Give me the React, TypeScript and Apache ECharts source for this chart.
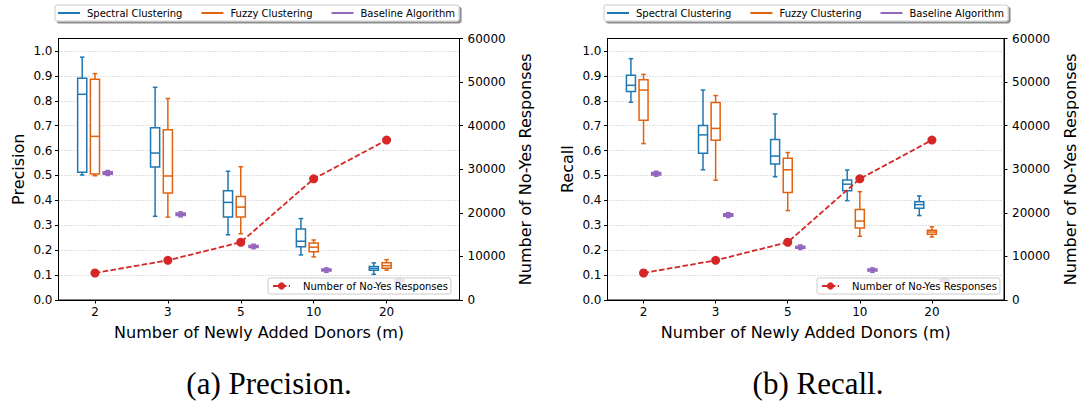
import React, { useEffect, useRef } from "react";
import * as echarts from "echarts";

// ---------- data ----------
const groupLabels = ["2", "3", "5", "10", "20"];
const seriesNames = ["Spectral Clustering", "Fuzzy Clustering", "Baseline Algorithm"];
const lineName = "Number of No-Yes Responses";

// each box: [min, Q1, median, Q3, max]
const precisionSpectral = [
  [0.502, 0.513, 0.826, 0.89, 0.975],
  [0.336, 0.534, 0.59, 0.692, 0.854],
  [0.262, 0.333, 0.392, 0.439, 0.517],
  [0.181, 0.214, 0.236, 0.285, 0.327],
  [0.103, 0.119, 0.127, 0.135, 0.149],
];
const precisionFuzzy = [
  [0.499, 0.506, 0.657, 0.886, 0.909],
  [0.333, 0.43, 0.498, 0.684, 0.809],
  [0.266, 0.333, 0.373, 0.416, 0.535],
  [0.173, 0.194, 0.212, 0.229, 0.241],
  [0.12, 0.127, 0.138, 0.15, 0.162],
];
const precisionBaseline = [
  [0.5, 0.505, 0.51, 0.515, 0.52],
  [0.334, 0.339, 0.344, 0.349, 0.354],
  [0.206, 0.211, 0.215, 0.219, 0.224],
  [0.111, 0.116, 0.12, 0.124, 0.129],
  [0.07, 0.074, 0.078, 0.082, 0.086],
];

const recallSpectral = [
  [0.794, 0.837, 0.862, 0.902, 0.969],
  [0.523, 0.589, 0.663, 0.701, 0.843],
  [0.495, 0.546, 0.578, 0.644, 0.747],
  [0.399, 0.439, 0.465, 0.482, 0.522],
  [0.339, 0.368, 0.383, 0.395, 0.418],
];
const recallFuzzy = [
  [0.628, 0.722, 0.843, 0.884, 0.906],
  [0.481, 0.641, 0.689, 0.793, 0.821],
  [0.359, 0.432, 0.523, 0.569, 0.592],
  [0.256, 0.289, 0.317, 0.363, 0.435],
  [0.253, 0.264, 0.273, 0.28, 0.294],
];
const recallBaseline = [
  [0.497, 0.502, 0.507, 0.512, 0.517],
  [0.331, 0.336, 0.341, 0.346, 0.351],
  [0.203, 0.208, 0.212, 0.216, 0.221],
  [0.111, 0.116, 0.12, 0.124, 0.129],
  [0.07, 0.074, 0.078, 0.082, 0.086],
];

const noYesResponses = [6200, 9100, 13250, 27800, 36700];

const leftTicks = [0, 0.1, 0.2, 0.3, 0.4, 0.5, 0.6, 0.7, 0.8, 0.9, 1.0];
const groupTickValues = [1, 2, 3, 4, 5];

// ---------- style ----------
const FONT = "DejaVu Sans";
const BLUE = "#1f77b4";
const ORANGE = "#e1620f";
const PURPLE = "#9467bd";
const RED = "#d62728";
const BOX_W = 0.125;
const OFFSETS = [-0.175, 0, 0.175];
const COLORS = [BLUE, ORANGE, PURPLE];
const FILLS = ["#ffffff", "#ffffff", PURPLE];

function boxRenderer(color: string, fill: string, offset: number) {
  return (_params: any, api: any) => {
    const x = api.value(0) + offset;
    const pts = [1, 2, 3, 4, 5].map((k) => api.coord([x, api.value(k)]));
    const [pLo, pQ1, pMed, pQ3, pHi] = pts;
    const cx = pLo[0];
    const w = api.size([BOX_W, 0])[0];
    const half = w / 2;
    const capHalf = w / 4;
    const st = { stroke: color, lineWidth: 1.5, fill: "none" };
    return {
      type: "group",
      children: [
        { type: "line", shape: { x1: cx, y1: pLo[1], x2: cx, y2: pQ1[1] }, style: st },
        { type: "line", shape: { x1: cx, y1: pQ3[1], x2: cx, y2: pHi[1] }, style: st },
        { type: "line", shape: { x1: cx - capHalf, y1: pLo[1], x2: cx + capHalf, y2: pLo[1] }, style: st },
        { type: "line", shape: { x1: cx - capHalf, y1: pHi[1], x2: cx + capHalf, y2: pHi[1] }, style: st },
        {
          type: "rect",
          shape: { x: cx - half, y: pQ3[1], width: w, height: pQ1[1] - pQ3[1] },
          style: { stroke: color, lineWidth: 1.5, fill },
        },
        { type: "line", shape: { x1: cx - half, y1: pMed[1], x2: cx + half, y2: pMed[1] }, style: st },
      ],
    };
  };
}

function makePanel(
  idx: number,
  gridLeft: number,
  yName: string,
  boxes: number[][][],
) {
  const grid = {
    left: gridLeft,
    top: 38.5,
    width: 401,
    height: 261.5,
    show: true,
    borderColor: "#000",
    borderWidth: 1,
    backgroundColor: "transparent",
  };
  const xAxis = {
    gridIndex: idx,
    type: "value",
    min: 0.5,
    max: 6,
    name: "Number of Newly Added Donors (m)",
    nameLocation: "middle",
    nameGap: 24,
    nameTextStyle: { fontFamily: FONT, fontSize: 16, color: "#000" },
    axisLine: { show: true, lineStyle: { color: "#000", width: 1 } },
    axisTick: { show: true, inside: false, length: 3.5, customValues: groupTickValues, lineStyle: { color: "#000" } },
    axisLabel: {
      show: true,
      customValues: groupTickValues,
      formatter: (v: number) => groupLabels[Math.round(v) - 1] ?? "",
      fontFamily: FONT,
      fontSize: 12,
      color: "#000",
      margin: 6,
    },
    splitLine: { show: false },
  };
  const yLeft = {
    gridIndex: idx,
    type: "value",
    min: 0,
    max: 1.05,
    interval: 0.1,
    position: "left",
    name: yName,
    nameLocation: "middle",
    nameRotate: 90,
    nameGap: 32,
    nameTextStyle: { fontFamily: FONT, fontSize: 16, color: "#000" },
    axisLine: { show: true, lineStyle: { color: "#000", width: 1 } },
    axisTick: { show: true, inside: false, length: 3.5, customValues: leftTicks, lineStyle: { color: "#000" } },
    axisLabel: {
      show: true,
      customValues: leftTicks,
      formatter: (v: number) => v.toFixed(1),
      fontFamily: FONT,
      fontSize: 12,
      color: "#000",
      margin: 6,
    },
    splitLine: { show: true, lineStyle: { color: "#b0b0b0", width: 0.8, type: [1, 2] } },
  };
  const yRight = {
    gridIndex: idx,
    type: "value",
    min: 0,
    max: 60000,
    interval: 10000,
    position: "right",
    name: lineName,
    nameLocation: "middle",
    nameRotate: 90,
    nameGap: 58,
    nameTextStyle: { fontFamily: FONT, fontSize: 16, color: "#000" },
    axisLine: { show: true, lineStyle: { color: "#000", width: 1 } },
    axisTick: { show: true, inside: false, length: 3.5, lineStyle: { color: "#000" } },
    axisLabel: {
      show: true,
      formatter: (v: number) => String(v),
      fontFamily: FONT,
      fontSize: 12,
      color: "#000",
      margin: 8,
    },
    splitLine: { show: false },
  };
  const series: any[] = boxes.map((b, k) => ({
    name: seriesNames[k],
    type: "custom",
    xAxisIndex: idx,
    yAxisIndex: idx * 2,
    itemStyle: { color: COLORS[k] },
    encode: { x: 0, y: [1, 2, 3, 4, 5] },
    data: b.map((v, i) => [i + 1, ...v]),
    renderItem: boxRenderer(COLORS[k], FILLS[k], OFFSETS[k]),
    z: 2,
  }));
  series.push({
    name: lineName,
    type: "line",
    xAxisIndex: idx,
    yAxisIndex: idx * 2 + 1,
    data: noYesResponses.map((v, i) => [i + 1, v]),
    symbol: "circle",
    symbolSize: 9,
    itemStyle: { color: RED },
    lineStyle: { color: RED, width: 1.8, type: [5.5, 2.4] },
    z: 3,
  });
  return { grid, xAxis, yAxes: [yLeft, yRight], series };
}

function topLegend(left: number) {
  return {
    left,
    top: 5,
    orient: "horizontal",
    selectedMode: false,
    data: seriesNames.map((n) => ({ name: n, icon: "rect" })),
    itemWidth: 22,
    itemHeight: 2,
    itemGap: 19,
    padding: [3, 4, 3, 3],
    backgroundColor: "#ffffff",
    borderColor: "#cccccc",
    borderWidth: 1,
    borderRadius: 2,
    shadowColor: "rgba(0,0,0,0.45)",
    shadowOffsetX: 2,
    shadowOffsetY: 2,
    shadowBlur: 0.5,
    textStyle: { fontFamily: FONT, fontSize: 10, color: "#000", padding: [0, 0, 0, 2] },
  };
}

function innerLegend(left: number) {
  return {
    left,
    top: 278,
    selectedMode: false,
    data: [lineName],
    itemWidth: 17,
    itemHeight: 9,
    padding: [3, 3, 3, 4],
    backgroundColor: "rgba(255,255,255,0.8)",
    borderColor: "#cccccc",
    borderWidth: 1,
    borderRadius: 2,
    textStyle: { fontFamily: FONT, fontSize: 10, color: "#000", padding: [0, 0, 0, 8] },
  };
}

export default function App() {
  const ref = useRef<HTMLDivElement>(null);
  useEffect(() => {
    document.body.style.margin = "0";
    if (!ref.current) return;
    const chart = echarts.init(ref.current, undefined, { renderer: "svg" });
    const p1 = makePanel(0, 58.5, "Precision", [precisionSpectral, precisionFuzzy, precisionBaseline]);
    const p2 = makePanel(1, 607.5, "Recall", [recallSpectral, recallFuzzy, recallBaseline]);
    chart.setOption({
      animation: false,
      backgroundColor: "#ffffff",
      textStyle: { fontFamily: FONT },
      grid: [p1.grid, p2.grid],
      xAxis: [p1.xAxis, p2.xAxis],
      yAxis: [...p1.yAxes, ...p2.yAxes],
      legend: [topLegend(55), innerLegend(268), topLegend(604), innerLegend(817)],
      series: [...p1.series, ...p2.series],
      graphic: [
        {
          type: "text",
          x: 269,
          y: 383,
          style: {
            text: "(a) Precision.",
            font: "31px 'Liberation Serif'",
            fill: "#000",
            align: "center",
            verticalAlign: "middle",
          },
        },
        {
          type: "text",
          x: 818,
          y: 383,
          style: {
            text: "(b) Recall.",
            font: "31px 'Liberation Serif'",
            fill: "#000",
            align: "center",
            verticalAlign: "middle",
          },
        },
      ],
    });
    return () => chart.dispose();
  }, []);
  return <div ref={ref} style={{ width: 1079, height: 403 }} />;
}
